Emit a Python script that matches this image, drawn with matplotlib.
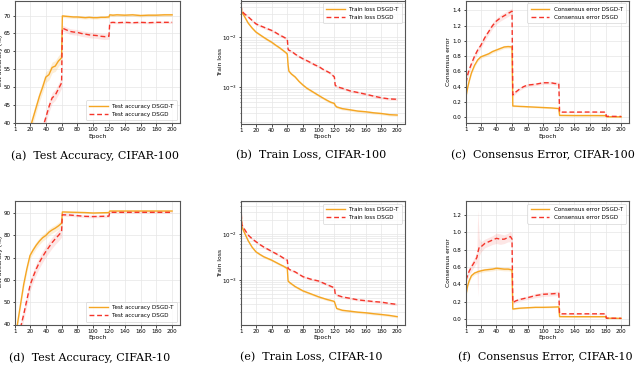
import matplotlib
matplotlib.use("Agg")
import matplotlib.pyplot as plt
import numpy as np

# ---------------------------------------------------------------- data
# CIFAR-100 test accuracy (%)
ep_acc100 = [1, 4, 8, 12, 16, 20, 24, 28, 32, 36, 40, 44, 48, 52, 56, 60, 61, 65, 70, 75, 80, 85,
             90, 95, 100, 105, 110, 115, 120, 121, 125, 130, 140, 150, 160, 170, 180, 190, 200]
acc100_t = [12, 20, 27, 32, 35.5, 38.5, 41.5, 44.5, 47.5, 50.0, 52.8, 53.5, 55.5, 55.9, 57.3, 58.2,
            69.9, 69.8, 69.7, 69.6, 69.6, 69.5, 69.4, 69.5, 69.4, 69.4, 69.5, 69.5, 69.6, 70.2,
            70.1, 70.2, 70.1, 70.2, 70.0, 70.1, 70.1, 70.2, 70.2]
acc100_d = [5, 10, 15, 20, 24, 27, 30, 33, 35.5, 38.5, 41.5, 44.5, 47.0, 47.8, 49.5, 51.2,
            66.5, 66.1, 65.6, 65.4, 65.3, 65.0, 64.8, 64.6, 64.5, 64.4, 64.2, 64.1, 64.2, 68.0,
            68.1, 68.0, 68.1, 68.0, 68.1, 68.0, 68.1, 68.1, 68.1]
acc100_t_sd = [1.5] * 16 + [0.4] * 23
acc100_d_sd = [1.5] * 16 + [0.8] * 13 + [0.3] * 10

# CIFAR-100 train loss
ep_loss100 = [1, 2, 5, 10, 15, 20, 25, 30, 35, 40, 45, 50, 55, 59, 60, 61, 62, 65, 70, 75, 80, 85,
              90, 95, 100, 105, 110, 115, 120, 121, 123, 130, 140, 150, 160, 170, 180, 190, 200]
loss100_t = [0.045, 0.032, 0.027, 0.0195, 0.0155, 0.0128, 0.0113, 0.0100, 0.0089, 0.0080, 0.0070,
             0.0062, 0.0054, 0.0048, 0.0046, 0.0028, 0.0021, 0.00185, 0.0016, 0.0013, 0.0011,
             0.00095, 0.00085, 0.00076, 0.00068, 0.00061, 0.00055, 0.00050, 0.00047, 0.00043,
             0.00040, 0.00037, 0.00035, 0.00033, 0.00032, 0.000305, 0.000295, 0.00028, 0.000275]
loss100_d = [0.045, 0.034, 0.030, 0.026, 0.022, 0.0187, 0.0172, 0.0160, 0.0148, 0.0138, 0.0125,
             0.0112, 0.0102, 0.0094, 0.0092, 0.0058, 0.0055, 0.0053, 0.0046, 0.0041, 0.0037,
             0.0034, 0.0031, 0.0028, 0.0026, 0.0023, 0.0021, 0.0019, 0.0016, 0.0011, 0.00102,
             0.00095, 0.00084, 0.00078, 0.00072, 0.00066, 0.00061, 0.00058, 0.00057]

# CIFAR-100 consensus error
ep_cons100 = [1, 3, 5, 8, 12, 16, 20, 25, 30, 35, 40, 45, 50, 55, 60, 61, 65, 70, 75, 80, 90, 100,
              110, 115, 120, 121, 140, 160, 180, 181, 200]
cons100_t = [0.27, 0.38, 0.47, 0.58, 0.68, 0.75, 0.79, 0.81, 0.83, 0.86, 0.88, 0.90, 0.92, 0.925,
             0.92, 0.145, 0.143, 0.14, 0.138, 0.135, 0.13, 0.125, 0.12, 0.116, 0.112, 0.022, 0.02,
             0.02, 0.019, 0.004, 0.003]
cons100_d = [0.45, 0.55, 0.62, 0.70, 0.80, 0.88, 0.94, 1.04, 1.12, 1.20, 1.26, 1.30, 1.33, 1.36,
             1.39, 0.29, 0.33, 0.37, 0.40, 0.42, 0.43, 0.45, 0.45, 0.44, 0.44, 0.065, 0.065, 0.066,
             0.065, 0.01, 0.008]
cons100_t_sd = [0.02] * 15 + [0.01] * 16
cons100_d_sd = [0.04] * 15 + [0.02] * 10 + [0.005] * 6

# CIFAR-10 test accuracy (%)
ep_acc10 = [1, 4, 8, 12, 16, 20, 24, 28, 32, 36, 40, 44, 48, 52, 56, 60, 61, 70, 80, 90, 100, 110,
            120, 121, 130, 140, 150, 160, 170, 180, 190, 200]
acc10_t = [33, 40, 49, 58, 65, 71, 73.5, 75.7, 77.5, 79.0, 80.0, 81.5, 82.5, 83.3, 84.3, 85.5,
           90.6, 90.5, 90.4, 90.3, 90.1, 90.2, 90.3, 91.0, 91.0, 91.0, 91.0, 91.0, 91.0, 91.0,
           91.0, 91.0]
acc10_d = [25, 32, 38.5, 44.5, 51, 57.5, 61.5, 65, 68, 70.5, 72.8, 74.8, 76.8, 78.5, 80.0, 81.7,
           89.3, 89.2, 88.9, 88.6, 88.5, 88.6, 88.7, 90.4, 90.4, 90.4, 90.4, 90.4, 90.4, 90.4,
           90.4, 90.4]
acc10_t_sd = [1.5] * 16 + [0.3] * 16
acc10_d_sd = [2.5] * 16 + [0.6] * 7 + [0.3] * 9

# CIFAR-10 train loss
ep_loss10 = [1, 2, 5, 10, 15, 20, 25, 30, 40, 50, 55, 60, 61, 63, 70, 80, 90, 100, 110, 118, 120,
             121, 123, 130, 140, 150, 160, 170, 180, 190, 200]
loss10_t = [0.033, 0.0145, 0.011, 0.0072, 0.0052, 0.0041, 0.0036, 0.0032, 0.0027, 0.0022, 0.0020,
            0.00178, 0.00095, 0.00088, 0.00072, 0.00058, 0.00050, 0.00043, 0.00038, 0.00035,
            0.00034, 0.00030, 0.00024, 0.00022, 0.00021, 0.00020, 0.000194, 0.000185, 0.000178,
            0.00017, 0.00016]
loss10_d = [0.040, 0.016, 0.013, 0.0095, 0.0079, 0.0068, 0.0059, 0.0052, 0.0042, 0.0034, 0.0030,
            0.0027, 0.0018, 0.00168, 0.0015, 0.00118, 0.00104, 0.00095, 0.0008, 0.0007, 0.00068,
            0.00051, 0.00047, 0.00043, 0.00040, 0.00037, 0.000355, 0.00034, 0.00033, 0.00031,
            0.000295]

# CIFAR-10 consensus error
ep_cons10 = [1, 3, 5, 8, 12, 15, 16, 18, 20, 25, 30, 35, 40, 45, 50, 55, 58, 60, 61, 65, 70, 80,
             90, 100, 110, 120, 121, 140, 160, 180, 181, 200]
cons10_t = [0.28, 0.38, 0.44, 0.50, 0.53, 0.54, 0.545, 0.55, 0.555, 0.565, 0.57, 0.575, 0.585,
            0.58, 0.575, 0.575, 0.57, 0.565, 0.115, 0.12, 0.125, 0.13, 0.135, 0.135, 0.137, 0.14,
            0.028, 0.027, 0.027, 0.027, 0.01, 0.008]
cons10_d = [0.45, 0.50, 0.55, 0.60, 0.66, 0.71, 0.76, 0.83, 0.83, 0.87, 0.89, 0.91, 0.93, 0.92,
            0.92, 0.94, 0.95, 0.92, 0.19, 0.21, 0.225, 0.246, 0.27, 0.285, 0.29, 0.296, 0.06, 0.06,
            0.06, 0.06, 0.01, 0.008]
cons10_t_sd = [0.02] * 18 + [0.008] * 14
cons10_d_sd = [0.04, 0.04, 0.04, 0.05, 0.05, 0.06, 0.5, 0.1, 0.06, 0.05, 0.05, 0.05, 0.06, 0.06,
               0.05, 0.05, 0.06, 0.05, 0.02, 0.02, 0.02, 0.02, 0.025, 0.025, 0.025, 0.025, 0.005,
               0.005, 0.005, 0.005, 0.003, 0.003]

xticks = [1, 20, 40, 60, 80, 100, 120, 140, 160, 180, 200]

ORANGE = "#f5a623"
RED = "#f5352a"
W, H = 640, 366


def px_axes(fig, left, right, top, bottom):
    ax = fig.add_axes([left / W, 1 - bottom / H, (right - left) / W, (bottom - top) / H])
    ax._px_w = right - left
    return ax


def panel(ax, ep, t, d, tsd, dsd, label, ylabel, loc, ylab_off, log=False):
    ep = np.array(ep)
    t, d = np.array(t), np.array(d)
    if log:
        ax.set_yscale("log")
        ax.fill_between(ep, t * (1 - 0.06), t * (1 + 0.06), color=ORANGE, alpha=0.18, lw=0)
        ax.fill_between(ep, d * (1 - 0.06), d * (1 + 0.06), color=RED, alpha=0.12, lw=0)
    else:
        ax.fill_between(ep, t - np.array(tsd), t + np.array(tsd), color=ORANGE, alpha=0.18, lw=0)
        ax.fill_between(ep, d - np.array(dsd), d + np.array(dsd), color=RED, alpha=0.12, lw=0)
    ax.plot(ep, t, color=ORANGE, lw=1.0, label=f"{label} DSGD-T")
    ax.plot(ep, d, color=RED, lw=1.0, ls=(0, (3.5, 2)), label=f"{label} DSGD")
    ax.set_xlim(1, 210)
    ax.set_xticks(xticks)
    ax.set_xlabel("Epoch", fontsize=4.3, labelpad=1)
    ax.set_ylabel(ylabel, fontsize=4.3)
    ax.yaxis.set_label_coords(-ylab_off / ax._px_w, 0.5)
    ax.tick_params(labelsize=4.1, length=1.8, width=0.5, pad=1.3)
    ax.tick_params(which="minor", length=1, width=0.4)
    ax.grid(True, which="both" if log else "major", color="#e6e6e6", lw=0.5)
    ax.set_axisbelow(True)
    for s in ax.spines.values():
        s.set_color("#555555")
        s.set_linewidth(0.8)
    leg = ax.legend(loc=loc, fontsize=4.1, handlelength=3.2, frameon=True, fancybox=True,
                    borderpad=0.6, labelspacing=0.5)
    leg.get_frame().set_linewidth(0.5)
    leg.get_frame().set_edgecolor("#cccccc")


fig = plt.figure(figsize=(6.4, 3.66), dpi=100)

ax = px_axes(fig, 15, 180, 0.5, 123)
panel(ax, ep_acc100, acc100_t, acc100_d, acc100_t_sd, acc100_d_sd,
      "Test accuracy", "Test accuracy (%)", "lower right", 11.5)
ax.set_ylim(40, 74.2)

ax = px_axes(fig, 241, 405, 0.5, 123.5)
panel(ax, ep_loss100, loss100_t, loss100_d, None, None, "Train loss", "Train loss",
      "upper right", 18, log=True)
ax.set_ylim(1.86e-4, 0.055)

ax = px_axes(fig, 466, 629, 0.5, 123)
panel(ax, ep_cons100, cons100_t, cons100_d, cons100_t_sd, cons100_d_sd,
      "Consensus error", "Consensus error", "upper right", 15)
ax.set_ylim(-0.078, 1.53)
ax.set_yticks(np.arange(0, 1.41, 0.2))

ax = px_axes(fig, 15, 180, 201, 324.5)
panel(ax, ep_acc10, acc10_t, acc10_d, acc10_t_sd, acc10_d_sd,
      "Test accuracy", "Test accuracy (%)", "lower right", 11.5)
ax.set_ylim(40, 95.5)

ax = px_axes(fig, 241, 405, 201, 324.5)
panel(ax, ep_loss10, loss10_t, loss10_d, None, None, "Train loss", "Train loss",
      "upper right", 18, log=True)
ax.set_ylim(1.08e-4, 0.052)

ax = px_axes(fig, 466, 629, 201, 324.5)
panel(ax, ep_cons10, cons10_t, cons10_d, cons10_t_sd, cons10_d_sd,
      "Consensus error", "Consensus error", "upper right", 15)
ax.set_ylim(-0.063, 1.36)
ax.set_yticks(np.arange(0, 1.21, 0.2))

captions = [(95, 155.5, "(a)  Test Accuracy, CIFAR-100"),
            (311, 155.5, "(b)  Train Loss, CIFAR-100"),
            (543, 155.5, "(c)  Consensus Error, CIFAR-100"),
            (90, 357.5, "(d)  Test Accuracy, CIFAR-10"),
            (311, 357.5, "(e)  Train Loss, CIFAR-10"),
            (545, 357.5, "(f)  Consensus Error, CIFAR-10")]
for x, y, s in captions:
    fig.text(x / W, 1 - y / H, s, ha="center", va="center", fontsize=8.0,
             family=["DejaVu Serif"])

fig.savefig("out.png", dpi=100)
